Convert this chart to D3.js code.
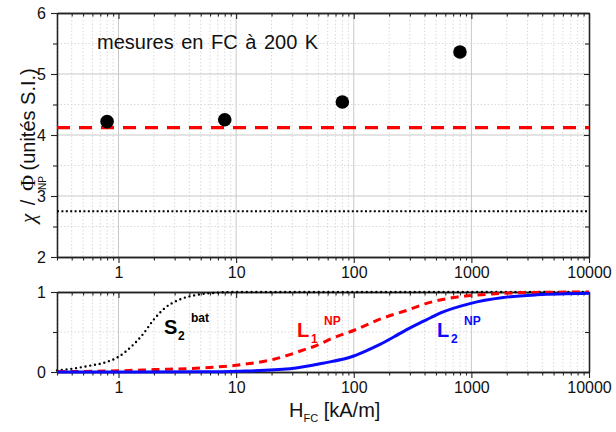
<!DOCTYPE html>
<html>
<head>
<meta charset="utf-8">
<script src="https://cdn.jsdelivr.net/npm/d3@7"></script>
<style>
  html, body { margin: 0; padding: 0; background: #fff; }
  svg { display: block; font-family: "Liberation Sans", Arial, sans-serif; }
</style>
</head>
<body>
<svg id="chart" width="616" height="432"></svg>
<script>
// ---------- DATA ----------
const xTickValues = [1, 10, 100, 1000, 10000];
const xTickLabels = ["1", "10", "100", "1000", "10000"];

// top panel: measurements (FC at 200 K)
const measH = [0.8, 8, 80, 800];
const measChi = [4.22, 4.25, 4.54, 5.36];
const refRedLevel = 4.12;     // red dashed reference
const refDotLevel = 2.75;     // black dotted reference
const topYTicks = [2, 3, 4, 5, 6];
const topYMinor = [2.5, 3.5, 4.5, 5.5];

// bottom panel: curves
const s2H = [0.3, 0.4, 0.55, 0.77, 1, 1.29, 1.63, 1.98, 2.48, 3.23, 4.47, 6.6, 10, 20, 100, 10000];
const s2V = [0.02, 0.04, 0.075, 0.12, 0.19, 0.32, 0.48, 0.65, 0.80, 0.90, 0.96, 0.99, 1.0, 1.0, 1.0, 1.0];

const l1H = [0.3, 1, 2, 5.1, 10.8, 21, 40, 48, 63, 102, 167, 282, 446, 703, 1500, 3500, 10000];
const l1V = [0.005, 0.015, 0.03, 0.05, 0.09, 0.16, 0.29, 0.33, 0.41, 0.525, 0.66, 0.77, 0.87, 0.93, 0.975, 0.995, 1.0];

const l2H = [0.3, 5, 10.8, 28.7, 55, 100, 130, 167, 220, 282, 366, 446, 541, 972, 1870, 3600, 10000];
const l2V = [0.0, 0.003, 0.01, 0.04, 0.11, 0.2, 0.27, 0.345, 0.44, 0.53, 0.615, 0.675, 0.735, 0.855, 0.93, 0.965, 0.985];
const botYTicks = [0, 1];
const botYMinor = [0.5];

// ---------- LAYOUT ----------
const svg = d3.select("#chart");
const L = 57, R = 589;
const topT = 13, topB = 257;
const botT = 292, botB = 372;
const axisColor = "#222";
const majGrid = "#c8c8c8", minGrid = "#dadada";
const serif = '"Liberation Serif", "Times New Roman", serif';

const x = d3.scaleLog().domain([0.3, 10000]).range([L, R]);
const yTop = d3.scaleLinear().domain([2, 6]).range([topB, topT]);
const yBot = d3.scaleLinear().domain([0, 1]).range([botB, botT]);

const minorX = [];
[0.1, 1, 10, 100, 1000].forEach(d => { for (let k = 2; k <= 9; k++) { const v = d * k; if (v >= 0.3 && v < 10000) minorX.push(v); } });

// ---------- GRIDS ----------
function grid(yScale, top, bottom, majorY, minorY) {
  const g = svg.append("g");
  g.selectAll(".vmin").data(minorX).join("line")
    .attr("x1", d => x(d)).attr("x2", d => x(d)).attr("y1", top).attr("y2", bottom)
    .attr("stroke", minGrid).attr("stroke-width", 1).attr("stroke-dasharray", "1.5,2");
  g.selectAll(".vmaj").data(xTickValues.slice(0, 4)).join("line")
    .attr("x1", d => x(d)).attr("x2", d => x(d)).attr("y1", top).attr("y2", bottom)
    .attr("stroke", majGrid).attr("stroke-width", 1);
  g.selectAll(".hmin").data(minorY).join("line")
    .attr("x1", L).attr("x2", R).attr("y1", d => yScale(d)).attr("y2", d => yScale(d))
    .attr("stroke", minGrid).attr("stroke-width", 1).attr("stroke-dasharray", "1.5,2");
  g.selectAll(".hmaj").data(majorY).join("line")
    .attr("x1", L).attr("x2", R).attr("y1", d => yScale(d)).attr("y2", d => yScale(d))
    .attr("stroke", majGrid).attr("stroke-width", 1);
}
grid(yTop, topT, topB, [3, 4, 5], topYMinor);
grid(yBot, botT, botB, [], botYMinor);

// ---------- AXES ----------
function styleAxis(g) {
  g.selectAll("path.domain").attr("stroke", axisColor).attr("stroke-width", 1.3);
  g.selectAll(".tick line").attr("stroke", axisColor).attr("stroke-width", 1.1);
  g.selectAll(".tick text").attr("fill", "#111").style("font-size", "16px")
    .style("font-family", '"Liberation Sans", Arial, sans-serif');
}
function xAxes(top, bottom, withLabels) {
  svg.append("g").attr("transform", `translate(0,${bottom})`)
    .call(d3.axisBottom(x).tickValues(xTickValues).tickSize(6).tickSizeOuter(0).tickPadding(4)
      .tickFormat((d, i) => withLabels ? xTickLabels[i] : ""))
    .call(styleAxis);
  svg.append("g").attr("transform", `translate(0,${bottom})`)
    .call(d3.axisBottom(x).tickValues(minorX).tickSize(3.5).tickSizeOuter(0).tickFormat(""))
    .call(styleAxis);
  svg.append("g").attr("transform", `translate(0,${top})`)
    .call(d3.axisTop(x).tickValues(xTickValues).tickSize(-6).tickSizeOuter(0).tickFormat(""))
    .call(styleAxis);
  svg.append("g").attr("transform", `translate(0,${top})`)
    .call(d3.axisTop(x).tickValues(minorX).tickSize(-3.5).tickSizeOuter(0).tickFormat(""))
    .call(styleAxis);
}
function yAxes(yScale, ticks, minor, fmt) {
  svg.append("g").attr("transform", `translate(${L},0)`)
    .call(d3.axisLeft(yScale).tickValues(ticks).tickSize(6).tickSizeOuter(0).tickPadding(5).tickFormat(fmt))
    .call(styleAxis);
  svg.append("g").attr("transform", `translate(${L},0)`)
    .call(d3.axisLeft(yScale).tickValues(minor).tickSize(4).tickSizeOuter(0).tickFormat(""))
    .call(styleAxis);
  svg.append("g").attr("transform", `translate(${R},0)`)
    .call(d3.axisRight(yScale).tickValues(ticks).tickSize(-5).tickSizeOuter(0).tickFormat(""))
    .call(styleAxis);
  svg.append("g").attr("transform", `translate(${R},0)`)
    .call(d3.axisRight(yScale).tickValues(minor).tickSize(-4).tickSizeOuter(0).tickFormat(""))
    .call(styleAxis);
}
xAxes(topT, topB, true);
yAxes(yTop, topYTicks, topYMinor, d3.format("d"));
xAxes(botT, botB, true);
yAxes(yBot, botYTicks, botYMinor, d3.format("d"));

// ---------- TOP PANEL MARKS ----------
svg.append("line")
  .attr("x1", x(0.3)).attr("x2", x(10000)).attr("y1", yTop(refDotLevel)).attr("y2", yTop(refDotLevel))
  .attr("stroke", "#000").attr("stroke-width", 2).attr("stroke-dasharray", "2,2.4");
svg.append("line")
  .attr("x1", x(0.3)).attr("x2", x(10000)).attr("y1", yTop(refRedLevel)).attr("y2", yTop(refRedLevel))
  .attr("stroke", "#ff0000").attr("stroke-width", 3.2).attr("stroke-dasharray", "13,9");
svg.append("g").selectAll("circle").data(measH).join("circle")
  .attr("cx", d => x(d)).attr("cy", (d, i) => yTop(measChi[i])).attr("r", 6.8).attr("fill", "#000");

svg.append("text").attr("x", 97).attr("y", 49)
  .style("font-size", "20px").style("word-spacing", "2px").attr("fill", "#111")
  .text("mesures en FC à 200 K");

// ---------- BOTTOM PANEL CURVES ----------
const mk = (hs, vs) => hs.map((h, i) => [h, vs[i]]);
const curveGen = d3.line().x(d => x(d[0])).y(d => yBot(d[1])).curve(d3.curveMonotoneX);

svg.append("path").attr("d", curveGen(mk(s2H, s2V)))
  .attr("fill", "none").attr("stroke", "#000").attr("stroke-width", 2.4)
  .attr("stroke-linecap", "round").attr("stroke-dasharray", "0,4.8");
svg.append("path").attr("d", curveGen(mk(l1H, l1V)))
  .attr("fill", "none").attr("stroke", "#ff0000").attr("stroke-width", 3)
  .attr("stroke-dasharray", "8,5.5");
svg.append("path").attr("d", curveGen(mk(l2H, l2V)))
  .attr("fill", "none").attr("stroke", "#0a0aff").attr("stroke-width", 3);

// curve labels
function curveLabel(main, sub, sup, color, mx, my) {
  svg.append("text").attr("x", mx).attr("y", my).attr("fill", color)
    .style("font-size", "20px").style("font-weight", "bold").text(main);
  svg.append("text").attr("x", mx + 14).attr("y", my + 6).attr("fill", color)
    .style("font-size", "12px").style("font-weight", "bold").text(sub);
  svg.append("text").attr("x", mx + 27).attr("y", my - 12).attr("fill", color)
    .style("font-size", "12px").style("font-weight", "bold").text(sup);
}
curveLabel("S", "2", "bat", "#000", 164, 334);
curveLabel("L", "1", "NP", "#ff0000", 297, 337);
curveLabel("L", "2", "NP", "#0a0aff", 437, 337);

// ---------- AXIS TITLES ----------
const yl = svg.append("text")
  .attr("transform", "translate(35,223) rotate(-90)")
  .attr("text-anchor", "start").attr("fill", "#111")
  .style("font-size", "20px");
yl.append("tspan").style("font-family", serif).style("font-style", "italic").style("font-size", "21px").text("χ");
yl.append("tspan").attr("dx", 3).text(" / ");
yl.append("tspan").attr("dx", 3).style("font-family", serif).style("font-size", "22px").text("Φ");
yl.append("tspan").attr("dx", -15).attr("dy", 11).style("font-size", "10px").text("NP");
yl.append("tspan").attr("dx", 0).attr("dy", -11).text("\u00a0(unités S.I.)");

const xl = svg.append("text").attr("x", 289).attr("y", 417).attr("fill", "#111")
  .style("font-size", "20px");
xl.append("tspan").text("H");
xl.append("tspan").attr("dy", 5).style("font-size", "11px").text("FC");
xl.append("tspan").attr("dy", -5).text(" [kA/m]");
</script>
</body>
</html>
